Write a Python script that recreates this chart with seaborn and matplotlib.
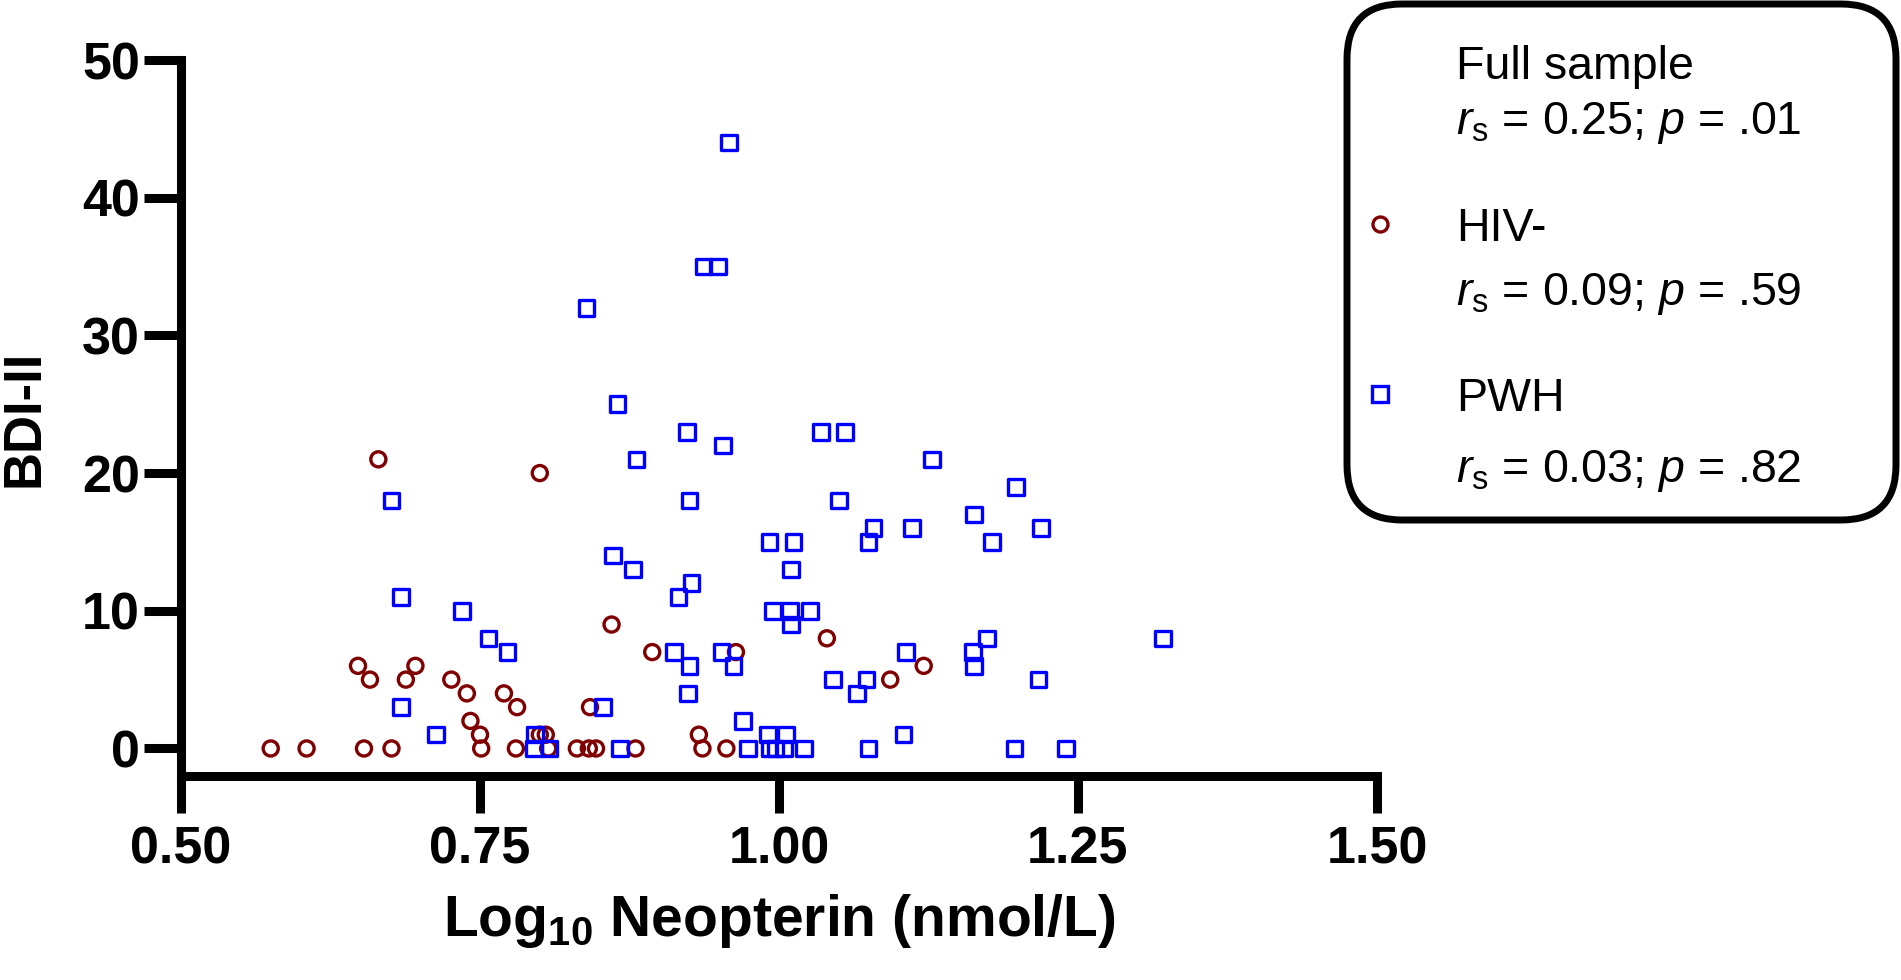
import numpy as np
import pandas as pd
import matplotlib
matplotlib.use("Agg")
import matplotlib.pyplot as plt
import seaborn as sns
from matplotlib.patches import FancyBboxPatch
from matplotlib.lines import Line2D

# ---------------- data ----------------
hiv_neg_x = [0.575, 0.605, 0.648, 0.653, 0.658, 0.665, 0.676, 0.688, 0.696, 0.726,
             0.739, 0.742, 0.750, 0.751, 0.770, 0.780, 0.781, 0.800, 0.805, 0.800,
             0.807, 0.831, 0.842, 0.841, 0.847, 0.860, 0.880, 0.894, 0.933, 0.936,
             0.956, 0.964, 1.040, 1.093, 1.121]
hiv_neg_y = [0, 0, 6, 0, 5, 21, 0, 5, 6, 5,
             4, 2, 1, 0, 4, 0, 3, 1, 1, 20,
             0, 0, 3, 0, 0, 9, 0, 7, 1, 0,
             0, 7, 8, 5, 6]

pwh_x = [0.676, 0.684, 0.684, 0.713, 0.735, 0.757, 0.773, 0.796, 0.795, 0.808,
         0.839, 0.853, 0.861, 0.865, 0.867, 0.878, 0.881, 0.912, 0.916, 0.923,
         0.924, 0.925, 0.925, 0.927, 0.937, 0.949, 0.952, 0.953, 0.958, 0.962,
         0.970, 0.974, 0.991, 0.992, 0.992, 0.995, 0.997, 1.004, 1.006, 1.009,
         1.010, 1.010, 1.012, 1.021, 1.026, 1.035, 1.045, 1.050, 1.055, 1.065,
         1.073, 1.075, 1.075, 1.079, 1.104, 1.106, 1.111, 1.128, 1.162, 1.163,
         1.163, 1.174, 1.178, 1.197, 1.198, 1.217, 1.219, 1.240, 1.321]
pwh_y = [18, 11, 3, 1, 10, 8, 7, 1, 0, 0,
         32, 3, 14, 25, 0, 13, 21, 7, 11, 23,
         4, 18, 6, 12, 35, 35, 7, 22, 44, 6,
         2, 0, 1, 15, 0, 10, 0, 0, 1, 10,
         13, 9, 15, 0, 10, 23, 5, 18, 23, 4,
         5, 15, 0, 16, 1, 7, 16, 21, 7, 6,
         17, 8, 15, 0, 19, 5, 16, 0, 8]

group_names = ["HIV-", "PWH"]
x_ticks = [0.50, 0.75, 1.00, 1.25, 1.50]
x_tick_labels = ["0.50", "0.75", "1.00", "1.25", "1.50"]
y_ticks = [0, 10, 20, 30, 40, 50]
y_tick_labels = ["0", "10", "20", "30", "40", "50"]
legend_title = "Full sample"
stat_full = r"$r_\mathrm{s}$ = 0.25; $p$ = .01"
stat_hiv = r"$r_\mathrm{s}$ = 0.09; $p$ = .59"
stat_pwh = r"$r_\mathrm{s}$ = 0.03; $p$ = .82"

# ---------------- style ----------------
sns.set_style("ticks")
plt.rcParams['font.family'] = ['Liberation Sans', 'DejaVu Sans']
plt.rcParams['mathtext.fontset'] = 'custom'
plt.rcParams['mathtext.rm'] = 'Liberation Sans'
plt.rcParams['mathtext.it'] = 'Liberation Sans:italic'
plt.rcParams['mathtext.bf'] = 'Liberation Sans:bold'
for k in ['text.color', 'axes.labelcolor', 'xtick.color', 'ytick.color',
          'xtick.labelcolor', 'ytick.labelcolor', 'axes.edgecolor']:
    plt.rcParams[k] = 'black'

W, H = 1901, 980
fig = plt.figure(figsize=(W / 100, H / 100), dpi=100)
ax = fig.add_axes([181 / W, (H - 776) / H, 1196 / W, 716 / H])

df = pd.DataFrame({
    "x": hiv_neg_x + pwh_x,
    "y": hiv_neg_y + pwh_y,
    "group": [group_names[0]] * len(hiv_neg_x) + [group_names[1]] * len(pwh_x),
})

col_neg = "#800000"
col_pwh = "#0000FF"
mew = 2.4

sns.scatterplot(data=df[df["group"] == "HIV-"], x="x", y="y", marker="o", s=118,
                facecolors="none", edgecolor=col_neg, linewidth=mew, ax=ax,
                legend=False, zorder=3)
sns.scatterplot(data=df[df["group"] == "PWH"], x="x", y="y", marker="s", s=125,
                facecolors="none", edgecolor=col_pwh, linewidth=mew, ax=ax,
                legend=False, zorder=3)

ax.set_xlim(0.5, 1.5)
ax.set_ylim(-2, 50)
ax.set_xticks(x_ticks, x_tick_labels, fontsize=37.5, fontweight="bold", color="black")
ax.set_yticks(y_ticks, y_tick_labels, fontsize=37.5, fontweight="bold", color="black")
ax.tick_params(axis="both", direction="out", length=26.5, width=6.5, color="black")
ax.tick_params(axis="x", pad=9)
ax.tick_params(axis="y", pad=3)

for s in ["top", "right"]:
    ax.spines[s].set_visible(False)
for s in ["left", "bottom"]:
    ax.spines[s].set_linewidth(6.5)
    ax.spines[s].set_color("black")

ax.set_xlabel(r"Log$_{\mathbf{10}}$ Neopterin (nmol/L)", fontsize=41, fontweight="bold",
              va="baseline", color="black")
ax.xaxis.set_label_coords(0.5, (776 - 936) / 716)
ax.set_ylabel("BDI-II", fontsize=38, fontweight="bold", color="black")
ax.yaxis.set_label_coords((49 - 181) / 1196, 0.5)

# ---------------- legend box ----------------
box = FancyBboxPatch((13.47, 4.60), 18.96 - 13.47, 9.76 - 4.60,
                     boxstyle="round,pad=0,rounding_size=0.55",
                     transform=fig.dpi_scale_trans, fill=False, lw=5, ec="black")
fig.add_artist(box)

tx = 1456 / W
fs = 33.5
fig.text(tx, 1 - 79 / H, legend_title, fontsize=fs, va="baseline", ha="left", color="black")
fig.text(tx, 1 - 134 / H, stat_full, fontsize=fs, va="baseline", ha="left", color="black")
fig.text(tx, 1 - 241 / H, group_names[0], fontsize=fs, va="baseline", ha="left", color="black")
fig.text(tx, 1 - 305 / H, stat_hiv, fontsize=fs, va="baseline", ha="left", color="black")
fig.text(tx, 1 - 411 / H, group_names[1], fontsize=fs, va="baseline", ha="left", color="black")
fig.text(tx, 1 - 482 / H, stat_pwh, fontsize=fs, va="baseline", ha="left", color="black")

fig.add_artist(Line2D([1380 / W], [1 - 224 / H], marker="o", ms=10.8, mfc="none",
                      mec=col_neg, mew=mew, linestyle="none", transform=fig.transFigure))
fig.add_artist(Line2D([1380 / W], [1 - 394 / H], marker="s", ms=11.2, mfc="none",
                      mec=col_pwh, mew=mew, linestyle="none", transform=fig.transFigure))

fig.savefig("out.png", dpi=100)
